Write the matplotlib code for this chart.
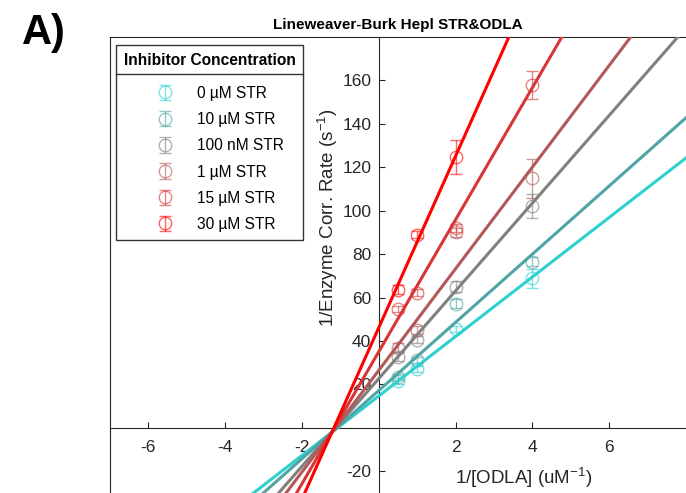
import numpy as np
import matplotlib
matplotlib.use('Agg')
import matplotlib.pyplot as plt
from matplotlib.lines import Line2D

plt.rcParams['font.family'] = ['Liberation Sans', 'DejaVu Sans']
plt.rcParams['mathtext.default'] = 'regular'
plt.rcParams['axes.unicode_minus'] = False

# Data
inv_odla = [0.5, 1, 2, 4]
labels = ['0 µM STR', '10 µM STR', '100 nM STR', '1 µM STR', '15 µM STR', '30 µM STR']

y_0uM = [21.6, 27.1, 45.6, 68.8]
e_0uM = [1.5, 1.5, 1.5, 4.5]
y_10uM = [23.4, 31.3, 57.2, 76.6]
e_10uM = [1.5, 1.5, 2.0, 2.0]
y_100nM = [32.8, 40.6, 65.0, 102.0]
e_100nM = [2.0, 1.5, 2.5, 5.5]
y_1uM = [37.0, 45.0, 90.0, 115.0]
e_1uM = [2.0, 2.0, 2.0, 9.0]
y_15uM = [54.8, 62.3, 92.0, 158.0]
e_15uM = [1.5, 1.5, 2.0, 6.5]
inv_odla_30 = [0.5, 1, 2]
y_30uM = [63.6, 89.0, 124.7]
e_30uM = [2.0, 1.5, 8.0]

# fitted lines (slope, intercept)
slopes = [13.7, 15.7, 20.2, 23.4, 30.4, 39.5]
intercepts = [14.7, 17.2, 22.7, 26.5, 35.1, 46.2]

colors = ['#2ED0D0', '#4FA4A4', '#808080', '#B25858', '#D93535', '#FF0000']

series = [
    (inv_odla, y_0uM, e_0uM),
    (inv_odla, y_10uM, e_10uM),
    (inv_odla, y_100nM, e_100nM),
    (inv_odla, y_1uM, e_1uM),
    (inv_odla, y_15uM, e_15uM),
    (inv_odla_30, y_30uM, e_30uM),
]

fig = plt.figure(figsize=(6.86, 4.93), dpi=100)
ax = fig.add_axes([110 / 686, 0, 576 / 686, 456 / 493])

handles = []
for (xs, ys, es), c in zip(series, colors):
    h = ax.errorbar(xs, ys, yerr=es, fmt='o', mfc='none', mec=c, ecolor=c,
                    color=c, ms=9, mew=1.0, capsize=4, elinewidth=1.0,
                    alpha=0.6, zorder=2)
    handles.append(h)

xx = np.array([-7, 8])
for m, b, c in zip(slopes, intercepts, colors):
    ax.plot(xx, m * xx + b, color=c, lw=2.2, zorder=3)

ax.set_xlim(-7, 8)
ax.set_ylim(-30, 180)
ax.set_xticks([-6, -4, -2, 2, 4, 6])
ax.set_yticks([-20, 20, 40, 60, 80, 100, 120, 140, 160])

ax.spines['left'].set_position(('data', 0))
ax.spines['bottom'].set_position(('data', 0))
ax.spines['right'].set_visible(False)
for s in ['left', 'bottom', 'top']:
    ax.spines[s].set_color('#262626')
    ax.spines[s].set_linewidth(0.8)
ax.plot([0, 0], [0, 1], transform=ax.transAxes, color='#262626', lw=0.8, clip_on=False)

ax.tick_params(axis='both', direction='in', length=4, width=0.8, colors='#262626',
               labelsize=12.5)
ax.tick_params(axis='x', pad=9)
ax.tick_params(axis='y', pad=5.5)

ax.set_xlabel('1/[ODLA] (uM$^{-1}$)', fontsize=13.5, color='#262626')
ax.xaxis.label.set_va('center')
ax.xaxis.set_label_coords(0.718, 0.033)
ax.set_ylabel('1/Enzyme Corr. Rate (s$^{-1}$)', fontsize=13.5, color='#262626')
ax.yaxis.label.set_va('center')
ax.yaxis.set_label_coords(0.378, 0.603)

ax.set_title('Lineweaver-Burk Hepl STR&ODLA', fontsize=11, fontweight='bold', pad=6)
fig.text(22 / 686, 1 - 33 / 493, 'A)', fontsize=30, fontweight='bold', va='center', ha='left')

leg = ax.legend(handles, labels, loc='upper left',
                bbox_to_anchor=(116 / 686, 1 - 45 / 493), bbox_transform=fig.transFigure,
                title='Inhibitor Concentration',
                title_fontproperties={'weight': 'bold', 'size': 11.2},
                fontsize=11.2, fancybox=False, edgecolor='#333333', framealpha=1,
                borderaxespad=0, handlelength=3.8, handletextpad=0.1,
                labelspacing=0.72, borderpad=0.5)
leg.get_frame().set_linewidth(1.0)
leg.set_zorder(5)
# extra room between legend title and entries
leg._legend_box.sep = 0.72 * 11.2 + 5

# separator line under the legend title
fig.canvas.draw()
fb = leg.get_frame().get_window_extent()
tb = leg.get_title().get_window_extent()
inv = fig.transFigure.inverted()
(x0, y0), (x1, _) = inv.transform([(fb.x0, tb.y0 - 6), (fb.x1, tb.y0 - 6)])
fig.add_artist(Line2D([x0, x1], [y0, y0], transform=fig.transFigure,
                      color='#333333', lw=1.0, zorder=6))

fig.savefig('out.png', dpi=100)
